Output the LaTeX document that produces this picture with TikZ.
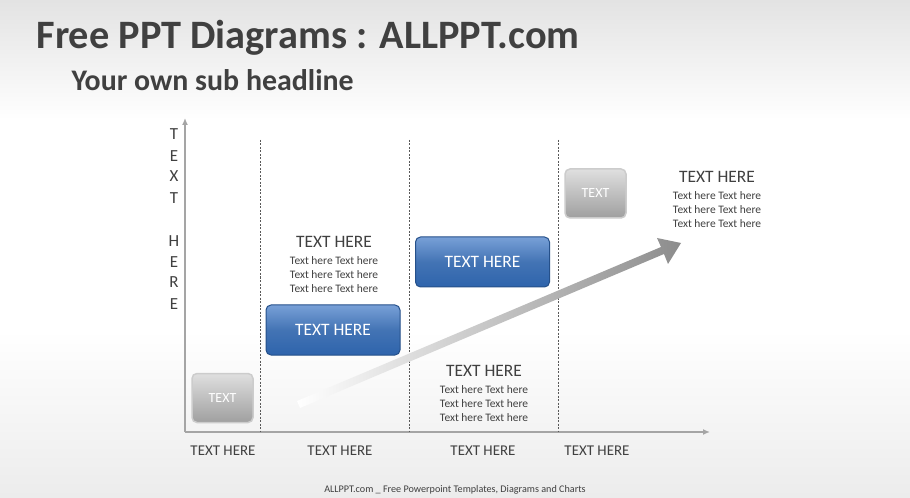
\documentclass[tikz,border=0pt]{standalone}
\usepackage{fontspec}
\setmainfont{Carlito}
\usetikzlibrary{positioning,arrows.meta}
\definecolor{axisgray}{RGB}{165,165,165}
\definecolor{titlegray}{RGB}{64,64,64}
\definecolor{boxblue}{RGB}{46,100,172}
\definecolor{boxbluelight}{RGB}{120,160,215}
\tikzset{
  bluebox/.style={rounded corners=5bp,draw=boxblue!80!black,line width=1bp,
    top color=boxbluelight,bottom color=boxblue,middle color=boxblue!90,
    minimum width=134bp,minimum height=50bp,text=white,font=\fontsize{17.5}{17.5}\selectfont},
  graybox/.style={rounded corners=5bp,draw=gray!40,line width=1.5bp,
    top color=gray!25,bottom color=gray!75,
    minimum width=61bp,minimum height=49bp,text=white,font=\fontsize{14}{14}\selectfont},
  headtext/.style={text=titlegray,font=\fontsize{17.5}{17.5}\selectfont},
  bodytext/.style={text=titlegray,align=center,font=\fontsize{11.5}{14}\selectfont},
  axislabel/.style={text=titlegray,font=\fontsize{15}{15}\selectfont},
  letter/.style={text=titlegray,font=\fontsize{17}{17}\selectfont},
}
\begin{document}
\begin{tikzpicture}[x=1bp,y=-1bp,>=latex]
\useasboundingbox (0,0) rectangle (910,498);
% background
\fill[white] (0,0) rectangle (910,498);
\shade[top color=gray!22,bottom color=white] (0,0) rectangle (910,120);
\shade[top color=white,bottom color=gray!15] (0,330) rectangle (910,498);
% titles
\node[anchor=west,text=titlegray,font=\bfseries\fontsize{40.5}{40.5}\selectfont] (title) at (33,38) {Free PPT Diagrams : ALLPPT.com};
\node[anchor=west,text=titlegray,font=\bfseries\fontsize{30}{30}\selectfont] (sub) at (68,80) {Your own sub headline};
% axes
\coordinate (origin) at (185,432);
\coordinate (ytip) at (185,118);
\coordinate (xtip) at (710,432);
\draw[axisgray,line width=2bp,-{Latex[length=7bp,width=6bp]}] (origin) -- (ytip);
\draw[axisgray,line width=2bp,-{Latex[length=7bp,width=6bp]}] (origin) -- (xtip);
% dashed dividers
\foreach \x in {260,409,558}
  \draw[dash pattern=on 2bp off 1.5bp,gray!70!black,line width=0.7bp] (\x,140) -- (\x,432);
% axis letters
\foreach \ch/\y in {T/134,E/156,X/176,T/198,H/241,E/262,R/282,E/304}
  \node[letter] at (174,\y) {\ch};
% growth arrow
\shade[left color=white,right color=gray!90]
  (300,408) -- (664,254) -- (668,264) -- (681,243) -- (657,238) -- (661,247) -- (297,401) -- cycle;
% boxes
\node[graybox] (g1) at (222.5,398) {TEXT};
\node[graybox] (g2) at (595.5,193.5) {TEXT};
\node[bluebox] (b1) at (333,330) {TEXT HERE};
\node[bluebox] (b2) at (482.5,262) {TEXT HERE};
% captions
\node[headtext] (h1) at (334,242) {TEXT HERE};
\node[bodytext,below=2bp of h1] (t1) {Text here Text here\\Text here Text here\\Text here Text here};
\node[headtext] (h2) at (484,371) {TEXT HERE};
\node[bodytext,below=2bp of h2] (t2) {Text here Text here\\Text here Text here\\Text here Text here};
\node[headtext] (h3) at (717,177) {TEXT HERE};
\node[bodytext,below=2bp of h3] (t3) {Text here Text here\\Text here Text here\\Text here Text here};
% x labels
\node[axislabel] (x1) at (223,451) {TEXT HERE};
\node[axislabel] (x2) at (340,451) {TEXT HERE};
\node[axislabel] (x3) at (483,451) {TEXT HERE};
\node[axislabel] (x4) at (597,451) {TEXT HERE};
% footer
\node[text=titlegray,font=\fontsize{10.2}{10.2}\selectfont] (foot) at (455,490) {ALLPPT.com \_ Free Powerpoint Templates, Diagrams and Charts};
\end{tikzpicture}
\end{document}
